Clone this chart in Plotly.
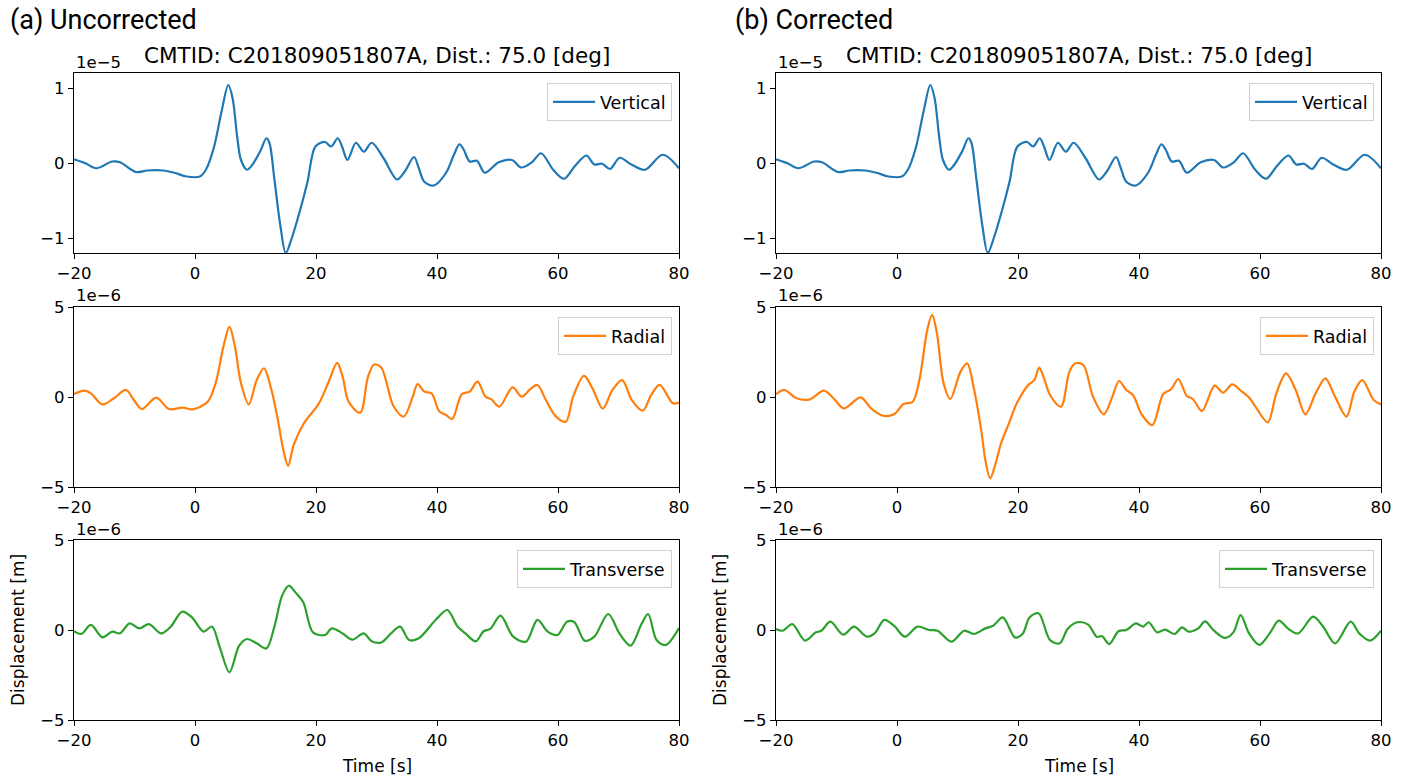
import numpy as np
import plotly.graph_objects as go

# ---------------- data ----------------
# Vertical component (same in both panels), units of 1e-5 m
t_vert = [-20, -18.2, -16.3, -13.7, -12.4, -9.8, -7.9, -5.3, -3.4, -1.4, 0.8, 1.8, 3.1, 4.4, 5.5, 6.2,
          7.0, 7.6, 8.6, 9.5, 10.8, 11.8, 12.3, 13.1, 14.1, 15.0, 16.0, 17.3, 18.6, 19.9, 21.5, 22.5,
          23.6, 24.3, 25.2, 26.6, 27.9, 29.2, 31.2, 33.4, 34.7, 36.2, 37.0, 37.9, 39.5, 41.5, 42.8,
          43.7, 44.4, 45.4, 46.6, 47.9, 50.2, 52.4, 53.9, 55.7, 57.2, 59.2, 61.0, 62.8, 64.7, 66.0,
          67.3, 68.6, 70.2, 72.1, 74.4, 77.3, 80]
v_vert = [0.05, 0.0, -0.07, 0.02, 0.01, -0.12, -0.10, -0.10, -0.13, -0.18, -0.18, -0.09, 0.2, 0.69,
          1.04, 0.87, 0.33, 0.04, -0.09, -0.02, 0.16, 0.33, 0.27, -0.2, -0.83, -1.2, -1.0, -0.65,
          -0.25, 0.22, 0.28, 0.22, 0.33, 0.22, 0.04, 0.27, 0.15, 0.27, 0.06, -0.22, -0.11, 0.08,
          -0.07, -0.25, -0.30, -0.13, 0.11, 0.25, 0.18, 0.02, 0.03, -0.13, 0.01, 0.04, -0.06, 0.01,
          0.13, -0.09, -0.21, -0.04, 0.10, -0.02, -0.01, -0.08, 0.07, -0.02, -0.09, 0.11, -0.07]

# Radial, uncorrected, units of 1e-6 m
t_rad_a = [-20, -18.2, -17.2, -15.3, -13.4, -11.4, -10.1, -8.8, -6.4, -4.3, -2.0, -0.4, 2.1, 3.4, 4.7,
           5.7, 6.6, 7.6, 8.9, 10.2, 11.4, 12.5, 13.6, 14.6, 15.4, 16.3, 18.0, 20.5, 22.1, 23.5, 24.4,
           25.4, 27.3, 28.6, 29.6, 30.8, 32.8, 34.5, 36.0, 36.8, 37.9, 39.1, 40.4, 41.5, 42.5, 44.1,
           45.4, 46.7, 48.0, 49.0, 50.3, 52.5, 54.0, 55.4, 56.6, 58.0, 59.6, 61.3, 62.5, 64.3, 65.7,
           67.4, 69.0, 70.6, 72.2, 74.0, 75.4, 76.8, 79.0, 80]
v_rad_a = [0.17, 0.35, 0.2, -0.41, -0.07, 0.39, -0.17, -0.67, -0.04, -0.67, -0.59, -0.69, -0.26, 0.76,
           2.8, 3.9, 2.8, 0.76, -0.41, 0.94, 1.59, 0.57, -1.09, -2.94, -3.83, -2.67, -1.46, -0.35,
           0.85, 1.9, 1.13, -0.26, -0.87, 1.13, 1.81, 1.63, -0.5, -1.09, 0.02, 0.72, 0.3, 0.2, -0.81,
           -1.0, -1.22, 0.15, 0.3, 0.85, 0.02, -0.13, -0.54, 0.54, 0.02, 0.43, 0.67, -0.17, -1.06,
           -1.37, 0.02, 1.17, 0.48, -0.65, 0.39, 0.94, -0.17, -0.76, 0.11, 0.67, -0.35, -0.31]

# Radial, corrected, units of 1e-6 m
t_rad_b = [-20, -18.6, -16.6, -14.4, -12.1, -10.5, -8.8, -6.0, -4.3, -2.3, -0.5, 1.1, 2.6, 3.7, 5.0,
           5.8, 6.6, 7.7, 8.8, 10.5, 11.6, 12.7, 14.0, 14.6, 15.4, 16.3, 17.2, 18.5, 19.8, 21.7, 22.7,
           23.5, 24.3, 25.3, 27.1, 28.5, 29.5, 30.8, 32.4, 34.2, 35.6, 36.7, 37.9, 39.0, 40.5, 42.2,
           44.0, 45.3, 46.5, 47.9, 48.9, 50.4, 52.5, 53.9, 55.4, 57.0, 58.3, 59.6, 61.3, 62.7, 64.3,
           65.9, 67.5, 69.2, 70.8, 72.4, 74.3, 75.6, 76.9, 78.8, 80]
v_rad_b = [0.15, 0.39, -0.07, -0.13, 0.35, -0.07, -0.63, -0.02, -0.63, -1.04, -0.96, -0.39, -0.26, 0.94,
           3.72, 4.56, 3.54, 0.76, -0.11, 1.41, 1.87, 0.48, -2.02, -3.5, -4.52, -3.69, -2.57, -1.46,
           -0.35, 0.67, 0.94, 1.63, 1.04, 0.11, -0.54, 1.41, 1.87, 1.78, 0.02, -0.96, 0.02, 0.89,
           0.39, 0.11, -1.0, -1.56, 0.17, 0.43, 1.0, 0.06, -0.11, -0.78, 0.63, 0.24, 0.7, 0.3, -0.07,
           -0.72, -1.41, 0.2, 1.31, 0.39, -0.96, 0.2, 1.04, 0.02, -1.09, 0.3, 0.94, -0.17, -0.41]

# Transverse, uncorrected, units of 1e-6 m
t_tra_a = [-20, -18.8, -17.2, -15.3, -13.7, -12.4, -10.8, -9.2, -7.6, -5.6, -4.0, -2.1, -0.5, 1.4, 2.8,
           4.1, 5.7, 7.3, 8.6, 10.2, 11.8, 13.1, 14.4, 15.5, 16.6, 17.9, 19.5, 21.5, 22.6, 24.4, 26.0,
           27.9, 29.2, 30.8, 32.4, 33.9, 35.4, 37.0, 39.9, 41.7, 43.4, 44.7, 46.4, 47.7, 48.8, 50.5,
           52.6, 54.7, 56.6, 58.3, 59.9, 61.5, 62.7, 64.4, 66.0, 68.3, 70.2, 72.0, 73.8, 74.9, 76.3,
           77.8, 80]
v_tra_a = [-0.07, -0.22, 0.28, -0.41, -0.09, -0.19, 0.37, 0.09, 0.33, -0.19, 0.19, 1.02, 0.7, -0.09,
           0.19, -0.96, -2.35, -0.87, -0.5, -0.74, -1.02, 0.15, 1.91, 2.46, 2.09, 1.54, -0.13, -0.28,
           0.09, -0.19, -0.54, -0.19, -0.63, -0.69, -0.19, 0.19, -0.56, -0.46, 0.61, 1.11, 0.19, -0.19,
           -0.63, -0.07, 0.06, 0.8, -0.37, -0.65, 0.56, -0.09, -0.28, 0.46, 0.43, -0.59, -0.37, 0.89,
           -0.22, -0.87, 0.33, 0.89, -0.56, -0.83, 0.11]

# Transverse, corrected, units of 1e-6 m
t_tra_b = [-20, -18.9, -17.3, -15.2, -13.4, -12.5, -11.0, -8.9, -7.1, -5.0, -3.7, -2.1, -0.5, 1.3, 3.4,
           5.3, 6.7, 9.0, 11.1, 12.7, 14.6, 15.9, 17.5, 19.5, 20.8, 21.9, 23.4, 25.3, 26.9, 28.2, 29.8,
           31.6, 33.0, 33.9, 35.1, 36.6, 37.9, 39.5, 40.7, 41.6, 43.0, 44.3, 45.9, 47.1, 48.2, 49.8,
           50.9, 52.4, 54.2, 55.6, 56.8, 58.2, 59.9, 61.6, 63.1, 64.7, 66.3, 68.8, 70.5, 72.4, 75.0,
           76.4, 78.2, 80]
v_tra_b = [0.06, -0.04, 0.33, -0.59, -0.13, -0.04, 0.46, -0.26, 0.19, -0.37, -0.19, 0.56, 0.24, -0.37,
           0.19, 0.0, -0.04, -0.65, -0.04, -0.22, 0.09, 0.24, 0.7, -0.41, -0.19, 0.7, 0.93, -0.56,
           -0.74, 0.06, 0.43, 0.3, -0.37, -0.35, -0.78, -0.07, 0.0, 0.37, 0.19, 0.43, -0.13, 0.02,
           -0.22, 0.15, -0.09, 0.09, 0.48, -0.04, -0.44, -0.13, 0.83, -0.19, -0.83, -0.19, 0.52, 0.06,
           -0.19, 0.74, 0.15, -0.74, 0.46, -0.19, -0.59, -0.04]

x_ticks = [-20, 0, 20, 40, 60, 80]
panel_labels = ["(a) Uncorrected", "(b) Corrected"]
title_text = "CMTID: C201809051807A, Dist.: 75.0 [deg]"
components = ["Vertical", "Radial", "Transverse"]
colors = ["#1f77b4", "#ff7f0e", "#2ca02c"]
scales = [1e-5, 1e-6, 1e-6]
offset_labels = ["1e\u22125", "1e\u22126", "1e\u22126"]
y_ticks = [[-1, 0, 1], [-5, 0, 5], [-5, 0, 5]]
y_lims = [1.2, 5, 5]

series = [
    [(t_vert, v_vert), (t_rad_a, v_rad_a), (t_tra_a, v_tra_a)],
    [(t_vert, v_vert), (t_rad_b, v_rad_b), (t_tra_b, v_tra_b)],
]

# ---------------- layout geometry ----------------
W, H = 1410, 779
col_px = [(74, 679), (776, 1381)]
row_px = [(73, 253), (307, 487), (540, 720)]
label_px = [8, 733]


def px(x):
    return x / W


def py(y):
    return 1 - y / H


fig = go.Figure()
FONT = "DejaVu Sans"
TICK = 16.5
layout = dict(
    width=W, height=H, margin=dict(l=0, r=0, t=0, b=0, autoexpand=False),
    paper_bgcolor="white", plot_bgcolor="white",
    font=dict(family=FONT, size=14, color="black"),
    annotations=[],
)

k = 0
for c in range(2):
    for r in range(3):
        k += 1
        xa = "xaxis" if k == 1 else f"xaxis{k}"
        ya = "yaxis" if k == 1 else f"yaxis{k}"
        xr = "x" if k == 1 else f"x{k}"
        yr = "y" if k == 1 else f"y{k}"
        lg = "legend" if k == 1 else f"legend{k}"
        t, v = series[c][r]
        s = scales[r]
        fig.add_trace(go.Scatter(
            x=t, y=np.array(v) * s, mode="lines", name=components[r],
            line=dict(color=colors[r], width=2.2, shape="spline", smoothing=0.9),
            xaxis=xr, yaxis=yr, legend=lg, showlegend=True,
        ))
        x0, x1 = col_px[c]
        y0, y1 = row_px[r]
        layout[xa] = dict(
            domain=[px(x0), px(x1)], anchor=yr, range=[-20, 80], automargin=False,
            tickvals=x_ticks, ticktext=[str(x).replace("-", "\u2212") for x in x_ticks],
            ticks="outside", ticklen=5, tickwidth=1.2, tickcolor="black",
            showline=True, mirror=True, linecolor="black", linewidth=1.2,
            showgrid=False, zeroline=False, tickfont=dict(size=TICK, family=FONT),
        )
        yl = y_lims[r]
        layout[ya] = dict(
            domain=[py(y1), py(y0)], anchor=xr, range=[-yl * s, yl * s], automargin=False,
            tickvals=[tv * s for tv in y_ticks[r]],
            ticktext=[str(tv).replace("-", "\u2212") for tv in y_ticks[r]],
            ticks="outside", ticklen=5, tickwidth=1.2, tickcolor="black",
            showline=True, mirror=True, linecolor="black", linewidth=1.2,
            showgrid=False, zeroline=False, tickfont=dict(size=TICK, family=FONT),
        )
        layout[lg] = dict(
            x=px(x1 - 7), xanchor="right", y=py(y0 + 10), yanchor="top",
            bgcolor="rgba(255,255,255,0.8)", bordercolor="#d0d0d0", borderwidth=1,
            font=dict(size=17.5, family=FONT), tracegroupgap=0, itemwidth=42,
        )
        layout["annotations"].append(dict(
            text=offset_labels[r], x=px(x0), y=py(y0 - 11), xref="paper", yref="paper",
            xanchor="left", yanchor="middle", showarrow=False, font=dict(size=TICK, family=FONT),
        ))
    # column texts
    x0, x1 = col_px[c]
    layout["annotations"].append(dict(
        text=panel_labels[c], x=px(label_px[c]), y=py(20), xref="paper", yref="paper",
        xanchor="left", yanchor="middle", showarrow=False, font=dict(size=27, family="Roboto"),
    ))
    layout["annotations"].append(dict(
        text=title_text, x=px((x0 + x1) / 2), y=py(55), xref="paper", yref="paper",
        xanchor="center", yanchor="middle", showarrow=False, font=dict(size=21.5, family=FONT),
    ))
    layout["annotations"].append(dict(
        text="Time [s]", x=px((x0 + x1) / 2), y=py(766), xref="paper", yref="paper",
        xanchor="center", yanchor="middle", showarrow=False, font=dict(size=17, family=FONT),
    ))
    layout["annotations"].append(dict(
        text="Displacement [m]", x=px(x0 - 56), y=py(630), xref="paper", yref="paper",
        xanchor="center", yanchor="middle", textangle=-90, showarrow=False,
        font=dict(size=17, family=FONT),
    ))

fig.update_layout(**layout)
fig.write_html("out.html")
